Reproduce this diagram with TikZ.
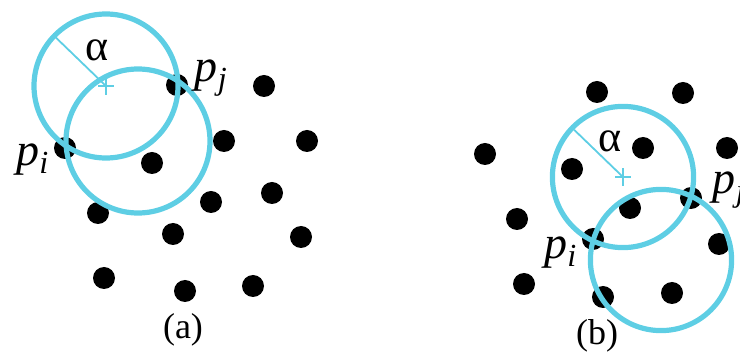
\documentclass[tikz,border=0pt]{standalone}
\usepackage{fontspec}
\setmainfont{Liberation Serif}
\usetikzlibrary{positioning}
\definecolor{ringcyan}{RGB}{94,206,228}

\begin{document}
\begin{tikzpicture}[
    x=0.5pt, y=-0.5pt,
    point/.style={circle, fill=black, inner sep=0pt, minimum size=11pt},
    ring/.style={draw=ringcyan, line width=2.6pt},
    thinline/.style={draw=ringcyan, line width=0.9pt},
    ptlabel/.style={inner sep=0pt, font=\fontsize{23}{23}\selectfont},
    alphalabel/.style={inner sep=0pt, font=\fontsize{22}{22}\selectfont},
    caption/.style={inner sep=0pt, font=\fontsize{18}{18}\selectfont}
]
\useasboundingbox (0,0) rectangle (740,352);

% Panel (a) - points
\node[point] (piA) at (65,148) {};
\node[point] (pjA) at (177,85) {};
\node[point] (a1) at (264,86) {};
\node[point] (a2) at (224,141) {};
\node[point] (a3) at (307,141) {};
\node[point] (a4) at (152,163) {};
\node[point] (a5) at (272,193) {};
\node[point] (a6) at (211,202) {};
\node[point] (a7) at (98,213) {};
\node[point] (a8) at (173,234) {};
\node[point] (a9) at (301,237) {};
\node[point] (a10) at (104,278) {};
\node[point] (a11) at (185,291) {};
\node[point] (a12) at (253,286) {};

% Panel (a) - circles
\coordinate (cA1) at (106,86);
\coordinate (cA2) at (138,141);
\coordinate (rimA) at ([shift={(136:35pt)}]cA1);
\draw[ring] (cA1) circle[radius=36pt];
\draw[ring] (cA2) circle[radius=36pt];
\draw[thinline] (cA1) -- (rimA);
\draw[thinline] ([xshift=-4pt]cA1) -- ([xshift=4pt]cA1);
\draw[thinline] ([yshift=-4.5pt]cA1) -- ([yshift=4.5pt]cA1);

% Panel (a) - labels
\node[alphalabel] (alphaA) at (97,50) {α};
\node[ptlabel, anchor=west, right=3pt of pjA, yshift=3.5pt] (pjAlabel) {\textit{p}\textsubscript{\textit{j}}};
\node[ptlabel, anchor=east, left=2pt of piA, yshift=-6pt] (piAlabel) {\textit{p}\textsubscript{\textit{i}}};
\node[caption] (capA) at (183,330) {(a)};

% Panel (b) - points
\node[point] (piB) at (593,239) {};
\node[point] (pjB) at (691,198) {};
\node[point] (b1) at (597,92) {};
\node[point] (b2) at (683,93) {};
\node[point] (b3) at (485,154) {};
\node[point] (b4) at (643,148) {};
\node[point] (b5) at (727,148) {};
\node[point] (b6) at (572,169) {};
\node[point] (b7) at (630,208) {};
\node[point] (b8) at (517,219) {};
\node[point] (b9) at (719,244) {};
\node[point] (b10) at (524,284) {};
\node[point] (b11) at (603,297) {};
\node[point] (b12) at (672,293) {};

% Panel (b) - circles
\coordinate (cB1) at (623,177);
\coordinate (cB2) at (661,260);
\coordinate (rimB) at ([shift={(136:34pt)}]cB1);
\draw[ring] (cB1) circle[radius=35.3pt];
\draw[ring] (cB2) circle[radius=35.3pt];
\draw[thinline] (cB1) -- (rimB);
\draw[thinline] ([xshift=-4pt]cB1) -- ([xshift=4pt]cB1);
\draw[thinline] ([yshift=-4.5pt]cB1) -- ([yshift=4.5pt]cB1);

% Panel (b) - labels
\node[alphalabel] (alphaB) at (610,141) {α};
\node[ptlabel, anchor=west, right=5pt of pjB, yshift=4pt] (pjBlabel) {\textit{p}\textsubscript{\textit{j}}};
\node[ptlabel, anchor=east, left=2pt of piB, yshift=-7pt] (piBlabel) {\textit{p}\textsubscript{\textit{i}}};
\node[caption] (capB) at (597,336) {(b)};

\end{tikzpicture}
\end{document}
